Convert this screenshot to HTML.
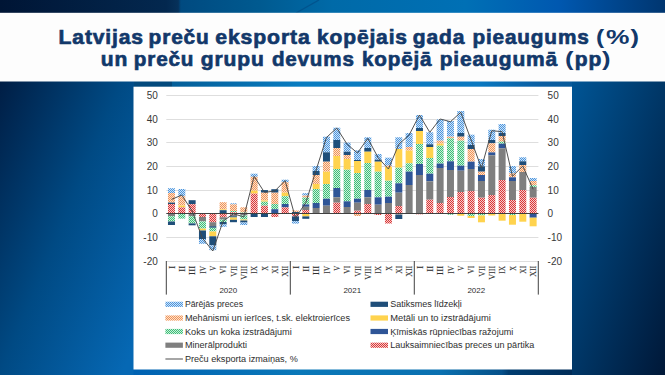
<!DOCTYPE html>
<html><head><meta charset="utf-8"><style>
html,body{margin:0;padding:0;width:665px;height:375px;overflow:hidden;background:#003a75;}
svg{display:block;}
text{font-family:"Liberation Sans",sans-serif;}
.ax{font-size:10px;fill:#383838;}
.yr{font-size:8px;fill:#2e2e2e;}
.rn{font-family:"Liberation Serif",serif;font-size:8px;fill:#303030;stroke:#303030;stroke-width:0.1;}
.lg{font-size:8.4px;fill:#2e2e2e;}
.tt{font-size:19.5px;font-weight:bold;fill:#12386A;stroke:#12386A;stroke-width:0.65;letter-spacing:0.8px;}
.tp{stroke-width:0;}
</style></head><body>
<svg width="665" height="375" viewBox="0 0 665 375">
<defs>
<linearGradient id="bgTop" x1="0" y1="0" x2="1" y2="0">
<stop offset="0" stop-color="#001535"/><stop offset="0.25" stop-color="#03284f"/><stop offset="0.268" stop-color="#06315a"/><stop offset="0.272" stop-color="#004a80"/><stop offset="0.39" stop-color="#005a90"/><stop offset="0.5" stop-color="#006aa8"/><stop offset="0.7" stop-color="#0070b5"/><stop offset="0.84" stop-color="#0058b0"/><stop offset="1" stop-color="#003670"/>
</linearGradient>
<linearGradient id="bgL" x1="0" y1="81" x2="208" y2="167" gradientUnits="userSpaceOnUse">
<stop offset="0" stop-color="#001e45"/><stop offset="0.5" stop-color="#004a84"/><stop offset="1" stop-color="#0668b4"/>
</linearGradient>
<linearGradient id="bgR" x1="572" y1="81" x2="741" y2="134.5" gradientUnits="userSpaceOnUse">
<stop offset="0" stop-color="#005595"/><stop offset="1" stop-color="#001838"/>
</linearGradient>
<linearGradient id="bgB" x1="134" y1="0" x2="572" y2="0" gradientUnits="userSpaceOnUse">
<stop offset="0" stop-color="#0062b2"/><stop offset="0.38" stop-color="#0a78b8"/><stop offset="0.7" stop-color="#0a70b0"/><stop offset="0.77" stop-color="#08609a"/><stop offset="0.84" stop-color="#05508a"/><stop offset="0.855" stop-color="#003d70"/><stop offset="1" stop-color="#002c58"/>
</linearGradient>
<linearGradient id="bgS" x1="134" y1="0" x2="572" y2="0" gradientUnits="userSpaceOnUse">
<stop offset="0" stop-color="#03497c"/><stop offset="0.0856" stop-color="#03497c"/><stop offset="0.0868" stop-color="#045e98"/><stop offset="0.379" stop-color="#087cc0"/><stop offset="0.79" stop-color="#0a78c0"/><stop offset="0.927" stop-color="#0a5ea2"/><stop offset="1" stop-color="#085a9a"/>
</linearGradient>
<pattern id="pB" width="2" height="2" patternUnits="userSpaceOnUse"><rect width="2" height="2" fill="#d0e4f6"/><rect x="0" y="0" width="1" height="1" fill="#4A94DE"/><rect x="1" y="1" width="1" height="1" fill="#4A94DE"/></pattern><pattern id="pO" width="2" height="2" patternUnits="userSpaceOnUse"><rect width="2" height="2" fill="#fbe0cc"/><rect x="0" y="0" width="1" height="1" fill="#F09458"/><rect x="1" y="1" width="1" height="1" fill="#F09458"/></pattern><pattern id="pG" width="2" height="2" patternUnits="userSpaceOnUse"><rect width="2" height="2" fill="#cdeedb"/><rect x="0" y="0" width="1" height="1" fill="#3CC078"/><rect x="1" y="1" width="1" height="1" fill="#3CC078"/></pattern><pattern id="pR" width="2" height="2" patternUnits="userSpaceOnUse"><rect width="2" height="2" fill="#f4cccc"/><rect x="0" y="0" width="1" height="1" fill="#DC3636"/><rect x="1" y="1" width="1" height="1" fill="#DC3636"/></pattern>
</defs>
<rect x="0" y="0" width="665" height="375" fill="#003a75"/>
<rect x="0" y="0" width="665" height="13" fill="url(#bgTop)"/>
<line x1="319" y1="0" x2="296" y2="13" stroke="#00508a" stroke-width="1.3" opacity="0.8"/>
<rect x="0" y="81" width="134" height="294" fill="url(#bgL)"/>
<rect x="572" y="81" width="93" height="294" fill="url(#bgR)"/>
<rect x="133.5" y="369" width="438.5" height="6" fill="url(#bgB)"/>
<rect x="134" y="81" width="438" height="6" fill="url(#bgS)"/>
<rect x="0" y="12.8" width="665" height="68.7" fill="#FDFDFD"/>
<rect x="133.5" y="86.7" width="438.5" height="282.8" fill="#FFFFFF"/>
<text x="58.60" y="43.7" class="tt" textLength="85.30" lengthAdjust="spacingAndGlyphs">Latvijas</text>
<text x="148.60" y="43.7" class="tt" textLength="61.00" lengthAdjust="spacingAndGlyphs">preču</text>
<text x="215.30" y="43.7" class="tt" textLength="95.30" lengthAdjust="spacingAndGlyphs">eksporta</text>
<text x="317.00" y="43.7" class="tt" textLength="90.90" lengthAdjust="spacingAndGlyphs">kopējais</text>
<text x="412.80" y="43.7" class="tt" textLength="52.50" lengthAdjust="spacingAndGlyphs">gada</text>
<text x="472.40" y="43.7" class="tt" textLength="117.20" lengthAdjust="spacingAndGlyphs">pieaugums</text>
<text x="596.10" y="43.7" class="tt tp" textLength="9.20" lengthAdjust="spacingAndGlyphs">(</text>
<text x="606.10" y="43.7" class="tt tp" textLength="24.50" lengthAdjust="spacingAndGlyphs">%</text>
<text x="630.50" y="43.7" class="tt tp" textLength="9.60" lengthAdjust="spacingAndGlyphs">)</text>
<text x="100.70" y="65.7" class="tt" textLength="27.40" lengthAdjust="spacingAndGlyphs">un</text>
<text x="133.80" y="65.7" class="tt" textLength="60.50" lengthAdjust="spacingAndGlyphs">preču</text>
<text x="200.80" y="65.7" class="tt" textLength="63.80" lengthAdjust="spacingAndGlyphs">grupu</text>
<text x="271.90" y="65.7" class="tt" textLength="82.80" lengthAdjust="spacingAndGlyphs">devums</text>
<text x="362.00" y="65.7" class="tt" textLength="70.40" lengthAdjust="spacingAndGlyphs">kopējā</text>
<text x="439.70" y="65.7" class="tt" textLength="118.40" lengthAdjust="spacingAndGlyphs">pieaugumā</text>
<text x="564.90" y="65.7" class="tt tp" textLength="9.60" lengthAdjust="spacingAndGlyphs">(</text>
<text x="574.80" y="65.7" class="tt" textLength="27.40" lengthAdjust="spacingAndGlyphs">pp</text>
<text x="602.10" y="65.7" class="tt tp" textLength="9.60" lengthAdjust="spacingAndGlyphs">)</text>
<line x1="166.3" y1="261.50" x2="538.4" y2="261.50" stroke="#DEDEDE" stroke-width="1"/>
<line x1="166.3" y1="237.50" x2="538.4" y2="237.50" stroke="#DEDEDE" stroke-width="1"/>
<line x1="166.3" y1="190.50" x2="538.4" y2="190.50" stroke="#DEDEDE" stroke-width="1"/>
<line x1="166.3" y1="166.50" x2="538.4" y2="166.50" stroke="#DEDEDE" stroke-width="1"/>
<line x1="166.3" y1="142.50" x2="538.4" y2="142.50" stroke="#DEDEDE" stroke-width="1"/>
<line x1="166.3" y1="119.50" x2="538.4" y2="119.50" stroke="#DEDEDE" stroke-width="1"/>
<line x1="166.3" y1="95.50" x2="538.4" y2="95.50" stroke="#DEDEDE" stroke-width="1"/>
<rect x="167.97" y="188.20" width="7.0" height="4.80" fill="url(#pB)"/>
<rect x="167.97" y="193.00" width="7.0" height="9.60" fill="url(#pO)"/>
<rect x="167.97" y="202.60" width="7.0" height="1.40" fill="#1F4E79"/>
<rect x="167.97" y="204.00" width="7.0" height="9.50" fill="url(#pR)"/>
<rect x="167.97" y="213.50" width="7.0" height="2.70" fill="#7F7F7F"/>
<rect x="167.97" y="216.20" width="7.0" height="5.30" fill="url(#pG)"/>
<rect x="167.97" y="221.50" width="7.0" height="3.50" fill="#1F4E79"/>
<rect x="178.30" y="189.00" width="7.0" height="7.20" fill="url(#pB)"/>
<rect x="178.30" y="196.20" width="7.0" height="9.30" fill="url(#pO)"/>
<rect x="178.30" y="205.50" width="7.0" height="1.90" fill="#FFD34E"/>
<rect x="178.30" y="207.40" width="7.0" height="6.10" fill="url(#pR)"/>
<rect x="178.30" y="213.50" width="7.0" height="5.10" fill="url(#pG)"/>
<rect x="188.63" y="200.20" width="7.0" height="4.00" fill="#1F4E79"/>
<rect x="188.63" y="204.20" width="7.0" height="9.30" fill="url(#pR)"/>
<rect x="188.63" y="213.50" width="7.0" height="2.70" fill="#7F7F7F"/>
<rect x="188.63" y="216.20" width="7.0" height="7.20" fill="url(#pG)"/>
<rect x="188.63" y="223.40" width="7.0" height="1.90" fill="#1F4E79"/>
<rect x="198.97" y="213.50" width="7.0" height="3.50" fill="url(#pR)"/>
<rect x="198.97" y="217.00" width="7.0" height="4.40" fill="#7F7F7F"/>
<rect x="198.97" y="221.40" width="7.0" height="7.20" fill="url(#pG)"/>
<rect x="198.97" y="228.60" width="7.0" height="1.90" fill="#FFD34E"/>
<rect x="198.97" y="230.50" width="7.0" height="8.50" fill="#1F4E79"/>
<rect x="198.97" y="239.00" width="7.0" height="4.80" fill="url(#pB)"/>
<rect x="209.30" y="213.50" width="7.0" height="8.70" fill="url(#pR)"/>
<rect x="209.30" y="222.20" width="7.0" height="4.00" fill="#7F7F7F"/>
<rect x="209.30" y="226.20" width="7.0" height="1.60" fill="#1F4E79"/>
<rect x="209.30" y="227.80" width="7.0" height="3.70" fill="url(#pG)"/>
<rect x="209.30" y="231.50" width="7.0" height="4.80" fill="#FFD34E"/>
<rect x="209.30" y="236.30" width="7.0" height="9.10" fill="#1F4E79"/>
<rect x="209.30" y="245.40" width="7.0" height="4.80" fill="url(#pB)"/>
<rect x="219.63" y="202.20" width="7.0" height="7.20" fill="url(#pO)"/>
<rect x="219.63" y="209.40" width="7.0" height="0.80" fill="#FFD34E"/>
<rect x="219.63" y="210.20" width="7.0" height="3.30" fill="#1F4E79"/>
<rect x="219.63" y="213.50" width="7.0" height="3.70" fill="url(#pR)"/>
<rect x="219.63" y="217.20" width="7.0" height="2.40" fill="#7F7F7F"/>
<rect x="219.63" y="219.60" width="7.0" height="2.40" fill="url(#pG)"/>
<rect x="219.63" y="222.00" width="7.0" height="2.40" fill="#1F4E79"/>
<rect x="219.63" y="224.40" width="7.0" height="2.40" fill="url(#pB)"/>
<rect x="229.96" y="203.30" width="7.0" height="1.10" fill="url(#pB)"/>
<rect x="229.96" y="204.40" width="7.0" height="6.60" fill="url(#pO)"/>
<rect x="229.96" y="211.00" width="7.0" height="1.30" fill="url(#pG)"/>
<rect x="229.96" y="212.30" width="7.0" height="1.20" fill="url(#pR)"/>
<rect x="229.96" y="213.50" width="7.0" height="1.20" fill="url(#pR)"/>
<rect x="229.96" y="214.70" width="7.0" height="1.60" fill="#7F7F7F"/>
<rect x="229.96" y="216.30" width="7.0" height="1.20" fill="#1F4E79"/>
<rect x="229.96" y="217.50" width="7.0" height="2.30" fill="#FFD34E"/>
<rect x="229.96" y="219.80" width="7.0" height="2.40" fill="#1F4E79"/>
<rect x="240.30" y="207.30" width="7.0" height="5.30" fill="url(#pO)"/>
<rect x="240.30" y="212.60" width="7.0" height="0.90" fill="url(#pG)"/>
<rect x="240.30" y="213.50" width="7.0" height="2.00" fill="#7F7F7F"/>
<rect x="240.30" y="215.50" width="7.0" height="4.00" fill="url(#pG)"/>
<rect x="240.30" y="219.50" width="7.0" height="1.00" fill="#FFD34E"/>
<rect x="240.30" y="220.50" width="7.0" height="2.00" fill="#1F4E79"/>
<rect x="240.30" y="222.50" width="7.0" height="2.50" fill="url(#pB)"/>
<rect x="250.63" y="173.70" width="7.0" height="3.10" fill="url(#pB)"/>
<rect x="250.63" y="176.80" width="7.0" height="13.80" fill="url(#pO)"/>
<rect x="250.63" y="190.60" width="7.0" height="3.00" fill="#FFD34E"/>
<rect x="250.63" y="193.60" width="7.0" height="19.90" fill="url(#pR)"/>
<rect x="250.63" y="213.50" width="7.0" height="3.50" fill="#1F4E79"/>
<rect x="260.96" y="190.10" width="7.0" height="2.60" fill="#1F4E79"/>
<rect x="260.96" y="192.70" width="7.0" height="7.80" fill="url(#pO)"/>
<rect x="260.96" y="200.50" width="7.0" height="1.20" fill="#FFD34E"/>
<rect x="260.96" y="201.70" width="7.0" height="4.00" fill="url(#pG)"/>
<rect x="260.96" y="205.70" width="7.0" height="7.80" fill="url(#pR)"/>
<rect x="260.96" y="213.50" width="7.0" height="3.50" fill="#1F4E79"/>
<rect x="271.30" y="189.20" width="7.0" height="3.50" fill="#1F4E79"/>
<rect x="271.30" y="192.70" width="7.0" height="11.30" fill="url(#pO)"/>
<rect x="271.30" y="204.00" width="7.0" height="5.20" fill="url(#pG)"/>
<rect x="271.30" y="209.20" width="7.0" height="4.30" fill="#2F5597"/>
<rect x="271.30" y="213.50" width="7.0" height="3.50" fill="url(#pR)"/>
<rect x="281.63" y="179.70" width="7.0" height="2.60" fill="url(#pB)"/>
<rect x="281.63" y="182.30" width="7.0" height="10.40" fill="url(#pO)"/>
<rect x="281.63" y="192.70" width="7.0" height="3.50" fill="#FFD34E"/>
<rect x="281.63" y="196.20" width="7.0" height="7.80" fill="url(#pG)"/>
<rect x="281.63" y="204.00" width="7.0" height="3.40" fill="#2F5597"/>
<rect x="281.63" y="207.40" width="7.0" height="6.10" fill="url(#pR)"/>
<rect x="291.96" y="210.50" width="7.0" height="1.50" fill="url(#pO)"/>
<rect x="291.96" y="212.00" width="7.0" height="1.50" fill="#1F4E79"/>
<rect x="291.96" y="213.50" width="7.0" height="2.90" fill="url(#pR)"/>
<rect x="291.96" y="216.40" width="7.0" height="4.80" fill="#1F4E79"/>
<rect x="291.96" y="221.20" width="7.0" height="2.40" fill="url(#pB)"/>
<rect x="302.30" y="193.20" width="7.0" height="2.40" fill="url(#pB)"/>
<rect x="302.30" y="195.60" width="7.0" height="1.90" fill="url(#pO)"/>
<rect x="302.30" y="197.50" width="7.0" height="6.90" fill="url(#pG)"/>
<rect x="302.30" y="204.40" width="7.0" height="2.40" fill="#2F5597"/>
<rect x="302.30" y="206.80" width="7.0" height="3.20" fill="#7F7F7F"/>
<rect x="302.30" y="210.00" width="7.0" height="3.50" fill="url(#pR)"/>
<rect x="302.30" y="213.50" width="7.0" height="2.90" fill="#FFD34E"/>
<rect x="302.30" y="216.40" width="7.0" height="2.40" fill="#1F4E79"/>
<rect x="312.63" y="166.00" width="7.0" height="5.00" fill="url(#pB)"/>
<rect x="312.63" y="171.00" width="7.0" height="4.00" fill="#1F4E79"/>
<rect x="312.63" y="175.00" width="7.0" height="9.00" fill="url(#pO)"/>
<rect x="312.63" y="184.00" width="7.0" height="5.00" fill="#FFD34E"/>
<rect x="312.63" y="189.00" width="7.0" height="14.00" fill="url(#pG)"/>
<rect x="312.63" y="203.00" width="7.0" height="5.00" fill="#2F5597"/>
<rect x="312.63" y="208.00" width="7.0" height="5.50" fill="#7F7F7F"/>
<rect x="322.96" y="136.70" width="7.0" height="15.60" fill="url(#pB)"/>
<rect x="322.96" y="152.30" width="7.0" height="9.40" fill="#1F4E79"/>
<rect x="322.96" y="161.70" width="7.0" height="10.00" fill="url(#pO)"/>
<rect x="322.96" y="171.70" width="7.0" height="12.30" fill="#FFD34E"/>
<rect x="322.96" y="184.00" width="7.0" height="14.70" fill="url(#pG)"/>
<rect x="322.96" y="198.70" width="7.0" height="7.00" fill="#2F5597"/>
<rect x="322.96" y="205.70" width="7.0" height="7.80" fill="#7F7F7F"/>
<rect x="333.29" y="127.70" width="7.0" height="12.30" fill="url(#pB)"/>
<rect x="333.29" y="140.00" width="7.0" height="8.00" fill="#1F4E79"/>
<rect x="333.29" y="148.00" width="7.0" height="8.00" fill="url(#pO)"/>
<rect x="333.29" y="156.00" width="7.0" height="13.00" fill="#FFD34E"/>
<rect x="333.29" y="169.00" width="7.0" height="19.00" fill="url(#pG)"/>
<rect x="333.29" y="188.00" width="7.0" height="9.30" fill="#2F5597"/>
<rect x="333.29" y="197.30" width="7.0" height="5.40" fill="#7F7F7F"/>
<rect x="333.29" y="202.70" width="7.0" height="10.80" fill="url(#pR)"/>
<rect x="343.63" y="142.60" width="7.0" height="9.10" fill="url(#pB)"/>
<rect x="343.63" y="151.70" width="7.0" height="3.30" fill="#1F4E79"/>
<rect x="343.63" y="155.00" width="7.0" height="4.00" fill="url(#pO)"/>
<rect x="343.63" y="159.00" width="7.0" height="10.70" fill="#FFD34E"/>
<rect x="343.63" y="169.70" width="7.0" height="31.60" fill="url(#pG)"/>
<rect x="343.63" y="201.30" width="7.0" height="5.70" fill="#2F5597"/>
<rect x="343.63" y="207.00" width="7.0" height="6.50" fill="#7F7F7F"/>
<rect x="353.96" y="150.30" width="7.0" height="9.70" fill="url(#pB)"/>
<rect x="353.96" y="160.00" width="7.0" height="1.00" fill="#1F4E79"/>
<rect x="353.96" y="161.00" width="7.0" height="12.00" fill="#FFD34E"/>
<rect x="353.96" y="173.00" width="7.0" height="25.70" fill="url(#pG)"/>
<rect x="353.96" y="198.70" width="7.0" height="4.00" fill="#2F5597"/>
<rect x="353.96" y="202.70" width="7.0" height="8.00" fill="#7F7F7F"/>
<rect x="353.96" y="210.70" width="7.0" height="2.80" fill="url(#pR)"/>
<rect x="353.96" y="213.50" width="7.0" height="2.50" fill="url(#pO)"/>
<rect x="364.29" y="137.30" width="7.0" height="10.70" fill="url(#pB)"/>
<rect x="364.29" y="148.00" width="7.0" height="3.70" fill="#1F4E79"/>
<rect x="364.29" y="151.70" width="7.0" height="11.30" fill="#FFD34E"/>
<rect x="364.29" y="163.00" width="7.0" height="27.00" fill="url(#pG)"/>
<rect x="364.29" y="190.00" width="7.0" height="7.30" fill="#2F5597"/>
<rect x="364.29" y="197.30" width="7.0" height="6.70" fill="#7F7F7F"/>
<rect x="364.29" y="204.00" width="7.0" height="9.50" fill="url(#pR)"/>
<rect x="374.63" y="154.00" width="7.0" height="5.70" fill="url(#pB)"/>
<rect x="374.63" y="159.70" width="7.0" height="2.00" fill="#1F4E79"/>
<rect x="374.63" y="161.70" width="7.0" height="10.00" fill="#FFD34E"/>
<rect x="374.63" y="171.70" width="7.0" height="25.60" fill="url(#pG)"/>
<rect x="374.63" y="197.30" width="7.0" height="7.40" fill="#2F5597"/>
<rect x="374.63" y="204.70" width="7.0" height="8.80" fill="#7F7F7F"/>
<rect x="374.63" y="213.50" width="7.0" height="1.50" fill="url(#pR)"/>
<rect x="384.96" y="157.70" width="7.0" height="8.00" fill="url(#pB)"/>
<rect x="384.96" y="165.70" width="7.0" height="1.30" fill="url(#pO)"/>
<rect x="384.96" y="167.00" width="7.0" height="13.70" fill="#FFD34E"/>
<rect x="384.96" y="180.70" width="7.0" height="16.00" fill="url(#pG)"/>
<rect x="384.96" y="196.70" width="7.0" height="6.30" fill="#2F5597"/>
<rect x="384.96" y="203.00" width="7.0" height="10.50" fill="#7F7F7F"/>
<rect x="384.96" y="213.50" width="7.0" height="10.00" fill="url(#pR)"/>
<rect x="395.29" y="137.30" width="7.0" height="11.70" fill="url(#pB)"/>
<rect x="395.29" y="149.00" width="7.0" height="18.70" fill="#FFD34E"/>
<rect x="395.29" y="167.70" width="7.0" height="15.60" fill="url(#pG)"/>
<rect x="395.29" y="183.30" width="7.0" height="9.40" fill="#2F5597"/>
<rect x="395.29" y="192.70" width="7.0" height="13.30" fill="#7F7F7F"/>
<rect x="395.29" y="206.00" width="7.0" height="7.50" fill="url(#pR)"/>
<rect x="395.29" y="213.50" width="7.0" height="1.00" fill="url(#pO)"/>
<rect x="395.29" y="214.50" width="7.0" height="4.50" fill="#1F4E79"/>
<rect x="405.63" y="133.00" width="7.0" height="14.00" fill="url(#pB)"/>
<rect x="405.63" y="147.00" width="7.0" height="3.60" fill="url(#pO)"/>
<rect x="405.63" y="150.60" width="7.0" height="12.70" fill="#FFD34E"/>
<rect x="405.63" y="163.30" width="7.0" height="8.30" fill="url(#pG)"/>
<rect x="405.63" y="171.60" width="7.0" height="13.40" fill="#2F5597"/>
<rect x="405.63" y="185.00" width="7.0" height="28.50" fill="#7F7F7F"/>
<rect x="415.96" y="115.00" width="7.0" height="13.00" fill="url(#pB)"/>
<rect x="415.96" y="128.00" width="7.0" height="3.00" fill="#1F4E79"/>
<rect x="415.96" y="131.00" width="7.0" height="13.00" fill="#FFD34E"/>
<rect x="415.96" y="144.00" width="7.0" height="20.00" fill="url(#pG)"/>
<rect x="415.96" y="164.00" width="7.0" height="11.00" fill="#2F5597"/>
<rect x="415.96" y="175.00" width="7.0" height="38.50" fill="#7F7F7F"/>
<rect x="415.96" y="213.50" width="7.0" height="0.80" fill="url(#pR)"/>
<rect x="426.29" y="132.30" width="7.0" height="12.00" fill="url(#pB)"/>
<rect x="426.29" y="144.30" width="7.0" height="2.70" fill="#1F4E79"/>
<rect x="426.29" y="147.00" width="7.0" height="11.00" fill="#FFD34E"/>
<rect x="426.29" y="158.00" width="7.0" height="15.70" fill="url(#pG)"/>
<rect x="426.29" y="173.70" width="7.0" height="7.60" fill="#2F5597"/>
<rect x="426.29" y="181.30" width="7.0" height="18.40" fill="#7F7F7F"/>
<rect x="426.29" y="199.70" width="7.0" height="13.80" fill="url(#pR)"/>
<rect x="436.62" y="119.40" width="7.0" height="21.30" fill="url(#pB)"/>
<rect x="436.62" y="140.70" width="7.0" height="3.00" fill="url(#pO)"/>
<rect x="436.62" y="143.70" width="7.0" height="2.00" fill="#FFD34E"/>
<rect x="436.62" y="145.70" width="7.0" height="17.90" fill="url(#pG)"/>
<rect x="436.62" y="163.60" width="7.0" height="4.40" fill="#2F5597"/>
<rect x="436.62" y="168.00" width="7.0" height="35.00" fill="#7F7F7F"/>
<rect x="436.62" y="203.00" width="7.0" height="10.50" fill="url(#pR)"/>
<rect x="446.96" y="121.00" width="7.0" height="15.70" fill="url(#pB)"/>
<rect x="446.96" y="136.70" width="7.0" height="1.60" fill="url(#pO)"/>
<rect x="446.96" y="138.30" width="7.0" height="23.00" fill="url(#pG)"/>
<rect x="446.96" y="161.30" width="7.0" height="8.70" fill="#2F5597"/>
<rect x="446.96" y="170.00" width="7.0" height="27.00" fill="#7F7F7F"/>
<rect x="446.96" y="197.00" width="7.0" height="16.50" fill="url(#pR)"/>
<rect x="446.96" y="213.50" width="7.0" height="1.20" fill="url(#pG)"/>
<rect x="457.29" y="111.00" width="7.0" height="22.00" fill="url(#pB)"/>
<rect x="457.29" y="133.00" width="7.0" height="3.70" fill="#1F4E79"/>
<rect x="457.29" y="136.70" width="7.0" height="4.00" fill="url(#pO)"/>
<rect x="457.29" y="140.70" width="7.0" height="25.00" fill="url(#pG)"/>
<rect x="457.29" y="165.70" width="7.0" height="5.00" fill="#2F5597"/>
<rect x="457.29" y="170.70" width="7.0" height="21.30" fill="#7F7F7F"/>
<rect x="457.29" y="192.00" width="7.0" height="21.50" fill="url(#pR)"/>
<rect x="457.29" y="213.50" width="7.0" height="2.20" fill="#FFD34E"/>
<rect x="467.62" y="134.70" width="7.0" height="10.30" fill="url(#pB)"/>
<rect x="467.62" y="145.00" width="7.0" height="4.00" fill="#1F4E79"/>
<rect x="467.62" y="149.00" width="7.0" height="12.70" fill="url(#pO)"/>
<rect x="467.62" y="161.70" width="7.0" height="7.30" fill="#2F5597"/>
<rect x="467.62" y="169.00" width="7.0" height="22.00" fill="#7F7F7F"/>
<rect x="467.62" y="191.00" width="7.0" height="22.50" fill="url(#pR)"/>
<rect x="467.62" y="213.50" width="7.0" height="2.50" fill="url(#pG)"/>
<rect x="467.62" y="216.00" width="7.0" height="2.00" fill="#FFD34E"/>
<rect x="477.96" y="159.00" width="7.0" height="7.30" fill="url(#pB)"/>
<rect x="477.96" y="166.30" width="7.0" height="5.40" fill="#1F4E79"/>
<rect x="477.96" y="171.70" width="7.0" height="3.30" fill="url(#pO)"/>
<rect x="477.96" y="175.00" width="7.0" height="6.00" fill="#2F5597"/>
<rect x="477.96" y="181.00" width="7.0" height="16.70" fill="#7F7F7F"/>
<rect x="477.96" y="197.70" width="7.0" height="15.80" fill="url(#pR)"/>
<rect x="477.96" y="213.50" width="7.0" height="2.00" fill="url(#pG)"/>
<rect x="477.96" y="215.50" width="7.0" height="6.80" fill="#FFD34E"/>
<rect x="488.29" y="129.70" width="7.0" height="10.30" fill="url(#pB)"/>
<rect x="488.29" y="140.00" width="7.0" height="3.30" fill="#1F4E79"/>
<rect x="488.29" y="143.30" width="7.0" height="9.10" fill="url(#pO)"/>
<rect x="488.29" y="152.40" width="7.0" height="2.90" fill="#2F5597"/>
<rect x="488.29" y="155.30" width="7.0" height="39.70" fill="#7F7F7F"/>
<rect x="488.29" y="195.00" width="7.0" height="18.50" fill="url(#pR)"/>
<rect x="488.29" y="213.50" width="7.0" height="2.00" fill="#FFD34E"/>
<rect x="498.62" y="124.00" width="7.0" height="9.00" fill="url(#pB)"/>
<rect x="498.62" y="133.00" width="7.0" height="3.00" fill="#1F4E79"/>
<rect x="498.62" y="136.00" width="7.0" height="5.70" fill="url(#pO)"/>
<rect x="498.62" y="141.70" width="7.0" height="2.00" fill="url(#pG)"/>
<rect x="498.62" y="143.70" width="7.0" height="4.60" fill="#2F5597"/>
<rect x="498.62" y="148.30" width="7.0" height="31.70" fill="#7F7F7F"/>
<rect x="498.62" y="180.00" width="7.0" height="33.50" fill="url(#pR)"/>
<rect x="498.62" y="213.50" width="7.0" height="7.20" fill="#FFD34E"/>
<rect x="508.96" y="166.00" width="7.0" height="7.30" fill="url(#pB)"/>
<rect x="508.96" y="173.30" width="7.0" height="4.00" fill="url(#pO)"/>
<rect x="508.96" y="177.30" width="7.0" height="3.70" fill="#2F5597"/>
<rect x="508.96" y="181.00" width="7.0" height="19.00" fill="#7F7F7F"/>
<rect x="508.96" y="200.00" width="7.0" height="13.50" fill="url(#pR)"/>
<rect x="508.96" y="213.50" width="7.0" height="1.50" fill="url(#pG)"/>
<rect x="508.96" y="215.00" width="7.0" height="9.70" fill="#FFD34E"/>
<rect x="519.29" y="157.30" width="7.0" height="4.00" fill="url(#pB)"/>
<rect x="519.29" y="161.30" width="7.0" height="3.70" fill="#1F4E79"/>
<rect x="519.29" y="165.00" width="7.0" height="7.00" fill="url(#pO)"/>
<rect x="519.29" y="172.00" width="7.0" height="18.00" fill="#7F7F7F"/>
<rect x="519.29" y="190.00" width="7.0" height="23.50" fill="url(#pR)"/>
<rect x="519.29" y="213.50" width="7.0" height="8.20" fill="#FFD34E"/>
<rect x="529.62" y="178.00" width="7.0" height="3.00" fill="url(#pB)"/>
<rect x="529.62" y="181.00" width="7.0" height="4.30" fill="url(#pO)"/>
<rect x="529.62" y="185.30" width="7.0" height="1.70" fill="url(#pG)"/>
<rect x="529.62" y="187.00" width="7.0" height="10.70" fill="#7F7F7F"/>
<rect x="529.62" y="197.70" width="7.0" height="15.80" fill="url(#pR)"/>
<rect x="529.62" y="213.50" width="7.0" height="4.20" fill="#2F5597"/>
<rect x="529.62" y="217.70" width="7.0" height="8.60" fill="#FFD34E"/>
<line x1="166.3" y1="213.5" x2="538.4" y2="213.5" stroke="#404040" stroke-width="1.1"/>
<polyline points="171.47,199.40 181.80,195.10 192.13,211.00 202.47,238.20 212.80,251.00 223.13,221.00 233.46,213.80 243.80,216.90 254.13,176.30 264.46,192.40 274.80,191.00 285.13,180.60 295.46,218.00 305.80,202.60 316.13,170.00 326.46,137.50 336.79,128.00 347.13,144.30 357.46,153.00 367.79,138.30 378.13,157.70 388.46,169.00 398.79,144.30 409.13,135.00 419.46,115.00 429.79,132.30 440.12,119.00 450.46,121.70 460.79,112.30 471.12,140.00 481.46,168.00 491.79,130.70 502.12,131.70 512.46,176.30 522.79,166.00 533.12,189.30" fill="none" stroke="#484848" stroke-width="0.95" stroke-linejoin="round"/>
<text x="157.8" y="265.10" text-anchor="end" class="ax">-20</text>
<text x="547.6" y="265.10" class="ax">-20</text>
<text x="157.8" y="241.10" text-anchor="end" class="ax">-10</text>
<text x="547.6" y="241.10" class="ax">-10</text>
<text x="157.8" y="217.10" text-anchor="end" class="ax">0</text>
<text x="547.6" y="217.10" class="ax">0</text>
<text x="157.8" y="194.10" text-anchor="end" class="ax">10</text>
<text x="547.6" y="194.10" class="ax">10</text>
<text x="157.8" y="170.10" text-anchor="end" class="ax">20</text>
<text x="547.6" y="170.10" class="ax">20</text>
<text x="157.8" y="146.10" text-anchor="end" class="ax">30</text>
<text x="547.6" y="146.10" class="ax">30</text>
<text x="157.8" y="123.10" text-anchor="end" class="ax">40</text>
<text x="547.6" y="123.10" class="ax">40</text>
<text x="157.8" y="99.10" text-anchor="end" class="ax">50</text>
<text x="547.6" y="99.10" class="ax">50</text>
<line x1="166.30" y1="261" x2="166.30" y2="294.6" stroke="#404040" stroke-width="1"/>
<line x1="290.30" y1="261" x2="290.30" y2="294.6" stroke="#404040" stroke-width="1"/>
<line x1="414.29" y1="261" x2="414.29" y2="294.6" stroke="#404040" stroke-width="1"/>
<line x1="538.29" y1="261" x2="538.29" y2="294.6" stroke="#404040" stroke-width="1"/>
<text transform="translate(174.77,265.8) rotate(-90)" text-anchor="end" class="rn" textLength="3.03" lengthAdjust="spacingAndGlyphs">I</text>
<text transform="translate(185.10,265.8) rotate(-90)" text-anchor="end" class="rn" textLength="6.06" lengthAdjust="spacingAndGlyphs">II</text>
<text transform="translate(195.43,265.8) rotate(-90)" text-anchor="end" class="rn" textLength="9.09" lengthAdjust="spacingAndGlyphs">III</text>
<text transform="translate(205.77,265.8) rotate(-90)" text-anchor="end" class="rn" textLength="7.96" lengthAdjust="spacingAndGlyphs">IV</text>
<text transform="translate(216.10,265.8) rotate(-90)" text-anchor="end" class="rn" textLength="4.93" lengthAdjust="spacingAndGlyphs">V</text>
<text transform="translate(226.43,265.8) rotate(-90)" text-anchor="end" class="rn" textLength="7.96" lengthAdjust="spacingAndGlyphs">VI</text>
<text transform="translate(236.76,265.8) rotate(-90)" text-anchor="end" class="rn" textLength="10.99" lengthAdjust="spacingAndGlyphs">VII</text>
<text transform="translate(247.10,265.8) rotate(-90)" text-anchor="end" class="rn" textLength="14.03" lengthAdjust="spacingAndGlyphs">VIII</text>
<text transform="translate(257.43,265.8) rotate(-90)" text-anchor="end" class="rn" textLength="7.96" lengthAdjust="spacingAndGlyphs">IX</text>
<text transform="translate(267.76,265.8) rotate(-90)" text-anchor="end" class="rn" textLength="4.93" lengthAdjust="spacingAndGlyphs">X</text>
<text transform="translate(278.10,265.8) rotate(-90)" text-anchor="end" class="rn" textLength="7.96" lengthAdjust="spacingAndGlyphs">XI</text>
<text transform="translate(288.43,265.8) rotate(-90)" text-anchor="end" class="rn" textLength="10.99" lengthAdjust="spacingAndGlyphs">XII</text>
<text transform="translate(298.76,265.8) rotate(-90)" text-anchor="end" class="rn" textLength="3.03" lengthAdjust="spacingAndGlyphs">I</text>
<text transform="translate(309.10,265.8) rotate(-90)" text-anchor="end" class="rn" textLength="6.06" lengthAdjust="spacingAndGlyphs">II</text>
<text transform="translate(319.43,265.8) rotate(-90)" text-anchor="end" class="rn" textLength="9.09" lengthAdjust="spacingAndGlyphs">III</text>
<text transform="translate(329.76,265.8) rotate(-90)" text-anchor="end" class="rn" textLength="7.96" lengthAdjust="spacingAndGlyphs">IV</text>
<text transform="translate(340.09,265.8) rotate(-90)" text-anchor="end" class="rn" textLength="4.93" lengthAdjust="spacingAndGlyphs">V</text>
<text transform="translate(350.43,265.8) rotate(-90)" text-anchor="end" class="rn" textLength="7.96" lengthAdjust="spacingAndGlyphs">VI</text>
<text transform="translate(360.76,265.8) rotate(-90)" text-anchor="end" class="rn" textLength="10.99" lengthAdjust="spacingAndGlyphs">VII</text>
<text transform="translate(371.09,265.8) rotate(-90)" text-anchor="end" class="rn" textLength="14.03" lengthAdjust="spacingAndGlyphs">VIII</text>
<text transform="translate(381.43,265.8) rotate(-90)" text-anchor="end" class="rn" textLength="7.96" lengthAdjust="spacingAndGlyphs">IX</text>
<text transform="translate(391.76,265.8) rotate(-90)" text-anchor="end" class="rn" textLength="4.93" lengthAdjust="spacingAndGlyphs">X</text>
<text transform="translate(402.09,265.8) rotate(-90)" text-anchor="end" class="rn" textLength="7.96" lengthAdjust="spacingAndGlyphs">XI</text>
<text transform="translate(412.43,265.8) rotate(-90)" text-anchor="end" class="rn" textLength="10.99" lengthAdjust="spacingAndGlyphs">XII</text>
<text transform="translate(422.76,265.8) rotate(-90)" text-anchor="end" class="rn" textLength="3.03" lengthAdjust="spacingAndGlyphs">I</text>
<text transform="translate(433.09,265.8) rotate(-90)" text-anchor="end" class="rn" textLength="6.06" lengthAdjust="spacingAndGlyphs">II</text>
<text transform="translate(443.42,265.8) rotate(-90)" text-anchor="end" class="rn" textLength="9.09" lengthAdjust="spacingAndGlyphs">III</text>
<text transform="translate(453.76,265.8) rotate(-90)" text-anchor="end" class="rn" textLength="7.96" lengthAdjust="spacingAndGlyphs">IV</text>
<text transform="translate(464.09,265.8) rotate(-90)" text-anchor="end" class="rn" textLength="4.93" lengthAdjust="spacingAndGlyphs">V</text>
<text transform="translate(474.42,265.8) rotate(-90)" text-anchor="end" class="rn" textLength="7.96" lengthAdjust="spacingAndGlyphs">VI</text>
<text transform="translate(484.76,265.8) rotate(-90)" text-anchor="end" class="rn" textLength="10.99" lengthAdjust="spacingAndGlyphs">VII</text>
<text transform="translate(495.09,265.8) rotate(-90)" text-anchor="end" class="rn" textLength="14.03" lengthAdjust="spacingAndGlyphs">VIII</text>
<text transform="translate(505.42,265.8) rotate(-90)" text-anchor="end" class="rn" textLength="7.96" lengthAdjust="spacingAndGlyphs">IX</text>
<text transform="translate(515.76,265.8) rotate(-90)" text-anchor="end" class="rn" textLength="4.93" lengthAdjust="spacingAndGlyphs">X</text>
<text transform="translate(526.09,265.8) rotate(-90)" text-anchor="end" class="rn" textLength="7.96" lengthAdjust="spacingAndGlyphs">XI</text>
<text transform="translate(536.42,265.8) rotate(-90)" text-anchor="end" class="rn" textLength="10.99" lengthAdjust="spacingAndGlyphs">XII</text>
<text x="228.30" y="292.8" text-anchor="middle" class="yr">2020</text>
<text x="352.29" y="292.8" text-anchor="middle" class="yr">2021</text>
<text x="476.29" y="292.8" text-anchor="middle" class="yr">2022</text>
<rect x="165.4" y="301.70" width="17.50" height="5.2" fill="url(#pB)"/>
<text x="184.9" y="307.30" class="lg" textLength="58.2" lengthAdjust="spacingAndGlyphs">Pārējās preces</text>
<rect x="165.4" y="315.40" width="17.50" height="5.2" fill="url(#pO)"/>
<text x="184.9" y="321.00" class="lg" textLength="165.1" lengthAdjust="spacingAndGlyphs">Mehānismi un ierīces, t.sk. elektroierīces</text>
<rect x="165.4" y="328.90" width="17.50" height="5.2" fill="url(#pG)"/>
<text x="184.9" y="334.50" class="lg" textLength="106.9" lengthAdjust="spacingAndGlyphs">Koks un koka izstrādājumi</text>
<rect x="165.4" y="342.60" width="17.50" height="5.2" fill="#7F7F7F"/>
<text x="184.9" y="348.20" class="lg" textLength="62.2" lengthAdjust="spacingAndGlyphs">Minerālprodukti</text>
<line x1="165.4" y1="359.0" x2="182.9" y2="359.0" stroke="#888888" stroke-width="1.5"/>
<text x="184.9" y="362.00" class="lg" textLength="112.9" lengthAdjust="spacingAndGlyphs">Preču eksporta izmaiņas, %</text>
<rect x="370.5" y="301.70" width="17.50" height="5.2" fill="#1F4E79"/>
<text x="390.2" y="307.30" class="lg" textLength="71.7" lengthAdjust="spacingAndGlyphs">Satiksmes līdzekļi</text>
<rect x="370.5" y="315.40" width="17.50" height="5.2" fill="#FFD34E"/>
<text x="390.2" y="321.00" class="lg" textLength="100.7" lengthAdjust="spacingAndGlyphs">Metāli un to izstrādājumi</text>
<rect x="370.5" y="328.90" width="17.50" height="5.2" fill="#2F5597"/>
<text x="390.2" y="334.50" class="lg" textLength="123.1" lengthAdjust="spacingAndGlyphs">Ķīmiskās rūpniecības ražojumi</text>
<rect x="370.5" y="342.60" width="17.50" height="5.2" fill="url(#pR)"/>
<text x="390.2" y="348.20" class="lg" textLength="144.0" lengthAdjust="spacingAndGlyphs">Lauksaimniecības preces un pārtika</text>
</svg>
</body></html>
